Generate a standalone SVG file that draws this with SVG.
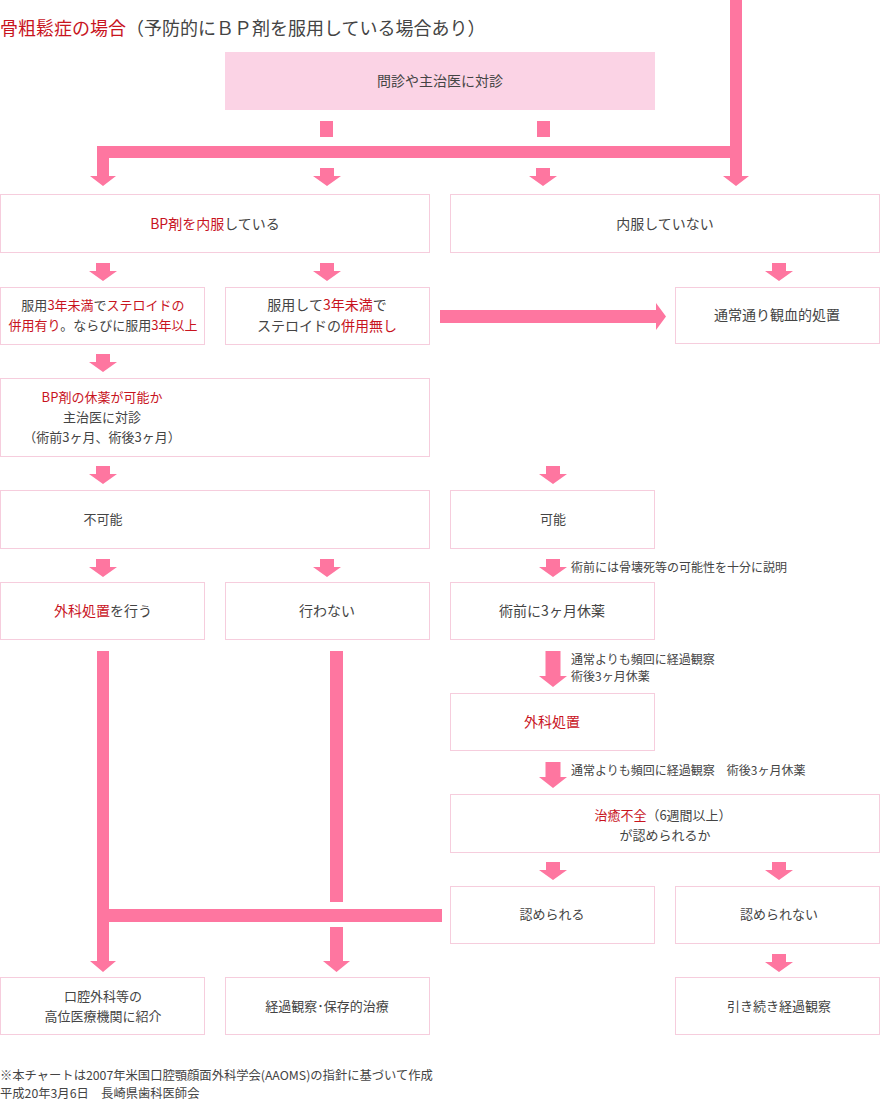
<svg xmlns="http://www.w3.org/2000/svg" xmlns:xlink="http://www.w3.org/1999/xlink" width="880" height="1100" viewBox="0 0 880 1100">
<style>
text{font-family:"Noto Sans CJK JP","Noto Sans",sans-serif;fill:#444;}
.t{font-size:14px;text-anchor:middle;}
.s{font-size:13px;text-anchor:middle;}
.n{font-size:12px;}
.f{font-size:12.3px;}
.r{fill:#c8141e;}
.box{fill:#fff;stroke:#f6cddd;stroke-width:1;}
.hdr{fill:#fbd3e5;}
.pk{fill:#fe76a0;}
</style>
<defs>
<path id="sa" d="M-7,0 h14 v8 h7 l-14,10 l-14,-10 h7 z"/>
</defs>
<g id="title">
<text x="0" y="35" font-size="18"><tspan class="r">骨粗鬆症の場合</tspan>（予防的にＢＰ剤を服用している場合あり）</text>
</g>
<g id="connectors" class="pk">
<rect x="320" y="121" width="13" height="16"/>
<rect x="537" y="121" width="13" height="16"/>
<path d="M730,0 h12 v176 h7 l-13,10 l-13,-10 h7 v-18 h-621 v18 h7 l-13,10 l-13,-10 h7 v-30 h633 z"/>
<use xlink:href="#sa" x="327" y="168"/>
<use xlink:href="#sa" x="543" y="168"/>
<use xlink:href="#sa" x="103" y="263"/>
<use xlink:href="#sa" x="327" y="263"/>
<use xlink:href="#sa" x="779" y="263"/>
<path d="M440,310 h216 v-7 l10,13.5 l-10,13.5 v-7 h-216 z"/>
<use xlink:href="#sa" x="103" y="354"/>
<use xlink:href="#sa" x="103" y="466"/>
<use xlink:href="#sa" x="553" y="466"/>
<use xlink:href="#sa" x="103" y="559"/>
<use xlink:href="#sa" x="327" y="559"/>
<use xlink:href="#sa" x="553" y="559"/>
<path d="M545.5,651 h15 v25 h6.5 l-14,11 l-14,-11 h6.5 z"/>
<path d="M545.5,762 h15 v15 h6.5 l-14,11 l-14,-11 h6.5 z"/>
<use xlink:href="#sa" x="553" y="862"/>
<use xlink:href="#sa" x="779" y="862"/>
<use xlink:href="#sa" x="779" y="954"/>
<path d="M97,651 h12 v258 h333 v13 h-333 v39 h7 l-13,11 l-13,-11 h7 z"/>
<rect x="330" y="651" width="13" height="251"/>
<path d="M330,927 h13 v34 h7 l-13.5,11 l-13.5,-11 h7 z"/>
</g>
<g id="n-header"><rect class="hdr" x="225" y="52" width="430" height="58"/><text class="t" x="440" y="86">問診や主治医に対診</text></g>
<g id="n-naifuku"><rect class="box" x="0.5" y="194.5" width="429" height="58"/><text class="t" x="215" y="229"><tspan class="r">BP剤を内服</tspan>している</text></g>
<g id="n-nonaifuku"><rect class="box" x="450.5" y="194.5" width="429" height="58"/><text class="t" x="665" y="229">内服していない</text></g>
<g id="n-steroid"><rect class="box" x="0.5" y="287.5" width="204" height="57"/><text class="s" x="103" y="310">服用<tspan class="r">3年未満</tspan>で<tspan class="r">ステロイドの</tspan></text><text class="s" x="103" y="330"><tspan class="r">併用有り</tspan>。ならびに服用<tspan class="r">3年以上</tspan></text></g>
<g id="n-nosteroid"><rect class="box" x="225.5" y="287.5" width="204" height="57"/><text class="t" x="327" y="310">服用して<tspan class="r">3年未満</tspan>で</text><text class="t" x="327" y="331">ステロイドの<tspan class="r">併用無し</tspan></text></g>
<g id="n-normal"><rect class="box" x="675.5" y="287.5" width="204" height="56"/><text class="t" x="777" y="320">通常通り観血的処置</text></g>
<g id="n-kyuyaku"><rect class="box" x="0.5" y="378.5" width="429" height="78"/><text class="s" x="102" y="402"><tspan class="r">BP剤の休薬が可能か</tspan></text><text class="s" x="102" y="422">主治医に対診</text><text class="s" x="102" y="442">（術前3ヶ月、術後3ヶ月）</text></g>
<g id="n-fukanou"><rect class="box" x="0.5" y="490.5" width="429" height="58"/><text class="s" x="103" y="524">不可能</text></g>
<g id="n-kanou"><rect class="box" x="450.5" y="490.5" width="204" height="58"/><text class="s" x="553" y="524">可能</text></g>
<text class="n" x="571" y="572">術前には骨壊死等の可能性を十分に説明</text>
<g id="n-geka"><rect class="box" x="0.5" y="582.5" width="204" height="57"/><text class="t" x="103" y="616"><tspan class="r">外科処置</tspan>を行う</text></g>
<g id="n-okonawanai"><rect class="box" x="225.5" y="582.5" width="204" height="57"/><text class="t" x="327" y="616">行わない</text></g>
<g id="n-3kagetsu"><rect class="box" x="450.5" y="582.5" width="204" height="57"/><text class="t" x="552" y="616">術前に3ヶ月休薬</text></g>
<text class="n" x="571" y="664">通常よりも頻回に経過観察</text>
<text class="n" x="571" y="681">術後3ヶ月休薬</text>
<g id="n-gekashochi"><rect class="box" x="450.5" y="693.5" width="204" height="57"/><text class="t r" x="552" y="727">外科処置</text></g>
<text class="n" x="571" y="775">通常よりも頻回に経過観察　術後3ヶ月休薬</text>
<g id="n-chiyu"><rect class="box" x="450.5" y="794.5" width="429" height="58"/><text class="s" x="663" y="820"><tspan class="r">治癒不全</tspan>（6週間以上）</text><text class="s" x="665" y="840">が認められるか</text></g>
<g id="n-mitomerareru"><rect class="box" x="450.5" y="886.5" width="204" height="57"/><text class="s" x="552" y="919">認められる</text></g>
<g id="n-mitomerarenai"><rect class="box" x="675.5" y="886.5" width="204" height="57"/><text class="s" x="779" y="919">認められない</text></g>
<g id="n-shokai"><rect class="box" x="0.5" y="977.5" width="204" height="57"/><text class="s" x="103" y="1001">口腔外科等の</text><text class="s" x="103" y="1021">高位医療機関に紹介</text></g>
<g id="n-keika"><rect class="box" x="225.5" y="977.5" width="204" height="57"/><text class="s" x="327" y="1011">経過観察･保存的治療</text></g>
<g id="n-hikitsuzuki"><rect class="box" x="675.5" y="977.5" width="204" height="57"/><text class="s" x="779" y="1011">引き続き経過観察</text></g>
<g id="footnote">
<text class="f" x="0" y="1080">※本チャートは2007年米国口腔顎顔面外科学会(AAOMS)の指針に基づいて作成</text>
<text class="f" x="0" y="1098">平成20年3月6日　長崎県歯科医師会</text>
</g>
</svg>
